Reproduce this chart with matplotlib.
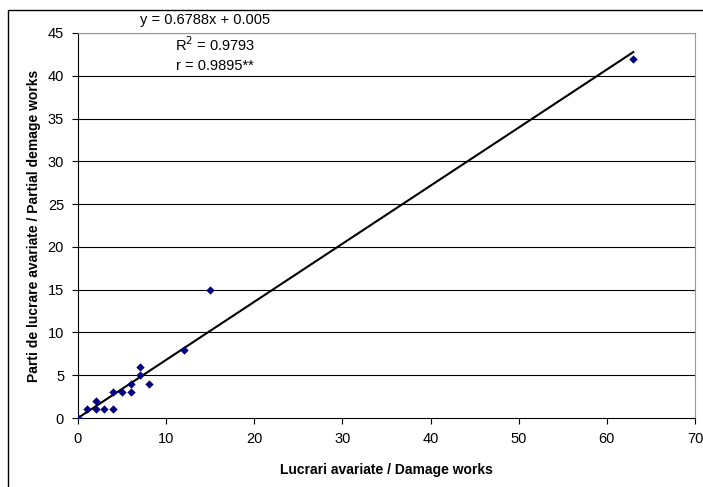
import numpy as np
import matplotlib.pyplot as plt
from matplotlib.patches import Rectangle

plt.rcParams['font.family'] = ['Liberation Sans', 'DejaVu Sans']

# data
damage_works = [0, 1, 2, 2, 3, 4, 4, 5, 6, 6, 7, 7, 8, 12, 15, 63]
partial_works = [0, 1, 2, 1, 1, 1, 3, 3, 3, 4, 6, 5, 4, 8, 15, 42]
slope = 0.6788
intercept = 0.005
x_ticks = [0, 10, 20, 30, 40, 50, 60, 70]
y_ticks = [0, 5, 10, 15, 20, 25, 30, 35, 40, 45]

fig = plt.figure(figsize=(7.03, 4.87), dpi=100)
ax = fig.add_axes([78/703, 1 - 418/487, (695 - 78)/703, (418 - 33)/487])

# outer chart border (cropped on the right and bottom)
fig.patches.append(Rectangle((8/703, -0.5), 2, 1 - 10/487 + 0.5, transform=fig.transFigure,
                             fill=False, edgecolor='black', linewidth=1.0))

for yv in y_ticks[1:]:
    ax.axhline(yv, color='black', linewidth=0.8, zorder=1)

ax.scatter(damage_works, partial_works, marker='D', s=18, color='#000080', zorder=3, linewidths=0)

xl = np.array([0, max(damage_works)])
ax.plot(xl, slope*xl + intercept, color='black', linewidth=1.5, zorder=2)

ax.set_xlim(0, 70)
ax.set_ylim(0, 45)
ax.set_xticks(x_ticks)
ax.set_yticks(y_ticks)
ax.tick_params(direction='out', length=4, width=0.8, labelsize=10.5, pad=6)
for side in ['left', 'bottom']:
    ax.spines[side].set_color('black')
for side in ['right', 'top']:
    ax.spines[side].set_color('#999999')

ax.set_xlabel('Lucrari avariate / Damage works', fontsize=10, fontweight='bold', labelpad=12)
ax.set_ylabel('Parti de lucrare avariate / Partial demage works', fontsize=10, fontweight='bold', labelpad=5)

fig.text(205/703, 1 - 20/487, 'y = 0.6788x + 0.005', ha='center', va='center', fontsize=10.5)
fig.text(215/703, 1 - 45/487, 'R$^2$ = 0.9793', ha='center', va='center', fontsize=10.5)
fig.text(215/703, 1 - 66/487, 'r = 0.9895**', ha='center', va='center', fontsize=10.5)

fig.savefig('out.png', dpi=100)
